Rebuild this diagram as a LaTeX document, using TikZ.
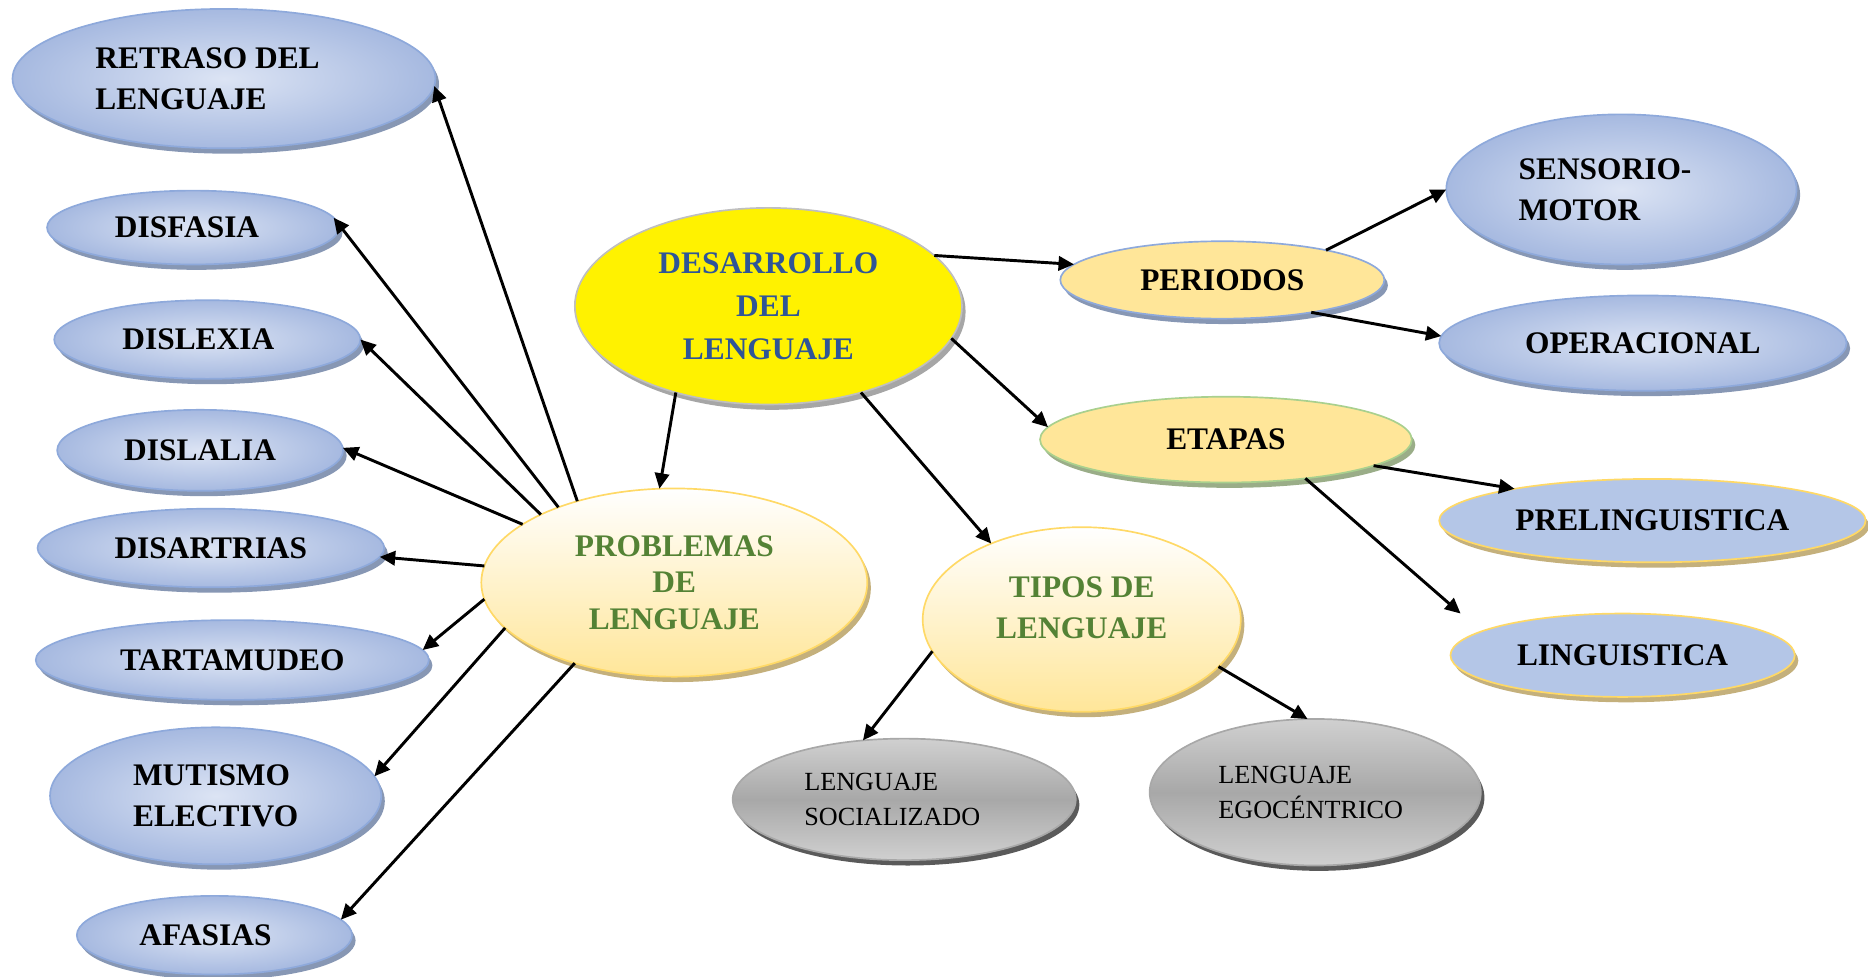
\documentclass[tikz,border=0pt]{standalone}
\usepackage{fontspec}
\setmainfont{Liberation Serif}
\usetikzlibrary{shapes.geometric, arrows.meta, shadows}

\definecolor{bluL}{HTML}{DCE4F4}
\definecolor{bluD}{HTML}{A6B9E0}
\definecolor{bluB}{HTML}{8EA9DB}
\definecolor{bluS}{HTML}{8797B4}
\definecolor{amb}{HTML}{FFE699}
\definecolor{ambB}{HTML}{FFD966}
\definecolor{ambS}{HTML}{C4B07C}
\definecolor{grisB}{HTML}{BFBFBF}
\definecolor{grisS}{HTML}{A6A6A6}
\definecolor{verB}{HTML}{A9D08E}
\definecolor{verS}{HTML}{9AAD88}
\definecolor{preF}{HTML}{B4C6E7}
\definecolor{grL}{HTML}{D0D0D0}
\definecolor{grD}{HTML}{A8A8A8}
\definecolor{grS}{HTML}{5A5A5A}
\definecolor{txtAzul}{HTML}{2F5597}
\definecolor{txtVerde}{HTML}{548235}

\begin{document}
\begin{tikzpicture}[
        burbuja/.style={ellipse, inner sep=0pt, outer sep=0pt, line width=0.8pt, align=left,
            font=\fontsize{15}{19.5}\selectfont\bfseries},
        azul/.style={burbuja, draw=bluB, inner color=bluL, outer color=bluD,
            drop shadow={shadow xshift=.06cm, shadow yshift=-.09cm, fill=bluS, opacity=1}},
        crema/.style={burbuja, draw=ambB, top color=white, bottom color=amb, text=txtVerde, align=center,
            font=\fontsize{15}{17.5}\selectfont\bfseries,
            drop shadow={shadow xshift=.06cm, shadow yshift=-.09cm, fill=ambS, opacity=1}},
        gris/.style={burbuja, draw=grD, top color=grL, bottom color=grL, middle color=grD,
            font=\fontsize{12.5}{16.5}\selectfont,
            drop shadow={shadow xshift=.06cm, shadow yshift=-.09cm, fill=grS, opacity=1}},
        flecha/.style={-{Triangle[length=2.6mm, width=2.4mm]}, line width=1.4pt}
    ]
        \useasboundingbox (0,0) rectangle (31.36,-16.4);

        % Centro
        \node[burbuja, draw=grisB, fill=yellow, text=txtAzul, align=center, minimum width=6.5cm, minimum height=3.3cm,
            font=\fontsize{15}{20.5}\selectfont\bfseries,
            drop shadow={shadow xshift=.06cm, shadow yshift=-.09cm, fill=grisS, opacity=1}]
            (desarrollo) at (12.90,-5.14) {DESARROLLO\\DEL\\LENGUAJE};

        % Problemas de lenguaje
        \node[crema, minimum width=6.48cm, minimum height=3.16cm] (problemas) at (11.32,-9.78) {PROBLEMAS\\DE\\LENGUAJE};

        \node[azul, minimum width=7.1cm, minimum height=2.34cm] (retraso) at (3.76,-1.32) {RETRASO DEL\hspace*{.55cm}\\LENGUAJE};
        \node[azul, minimum width=4.9cm, minimum height=1.24cm] (disfasia) at (3.24,-3.82) {DISFASIA\hspace*{.2cm}};
        \node[azul, minimum width=5.14cm, minimum height=1.32cm] (dislexia) at (3.48,-5.70) {DISLEXIA\hspace*{.3cm}};
        \node[azul, minimum width=4.8cm, minimum height=1.36cm] (dislalia) at (3.36,-7.56) {DISLALIA};
        \node[azul, minimum width=5.82cm, minimum height=1.32cm] (disartrias) at (3.54,-9.20) {DISARTRIAS};
        \node[azul, minimum width=6.6cm, minimum height=1.34cm] (tartamudeo) at (3.90,-11.08) {TARTAMUDEO};
        \node[azul, minimum width=5.56cm, minimum height=2.3cm] (mutismo) at (3.62,-13.36) {MUTISMO\\ELECTIVO};
        \node[azul, minimum width=4.62cm, minimum height=1.32cm] (afasias) at (3.60,-15.70) {AFASIAS\hspace*{.3cm}};

        % Periodos
        \node[burbuja, draw=bluB, fill=amb, minimum width=5.44cm, minimum height=1.3cm,
            drop shadow={shadow xshift=.06cm, shadow yshift=-.09cm, fill=bluS, opacity=1}]
            (periodos) at (20.52,-4.70) {PERIODOS};
        \node[azul, minimum width=5.88cm, minimum height=2.52cm] (sensorio) at (27.22,-3.18) {SENSORIO-\hspace*{.55cm}\\MOTOR};
        \node[azul, minimum width=6.84cm, minimum height=1.6cm] (operacional) at (27.58,-5.76) {OPERACIONAL};

        % Etapas
        \node[burbuja, draw=verB, fill=amb, minimum width=6.24cm, minimum height=1.44cm,
            drop shadow={shadow xshift=.06cm, shadow yshift=-.09cm, fill=verS, opacity=1}]
            (etapas) at (20.58,-7.38) {ETAPAS};
        \node[burbuja, draw=ambB, fill=preF, minimum width=7.16cm, minimum height=1.4cm,
            drop shadow={shadow xshift=.06cm, shadow yshift=-.09cm, fill=ambS, opacity=1}]
            (preling) at (27.74,-8.74) {PRELINGUISTICA};
        \node[burbuja, draw=ambB, fill=preF, minimum width=5.78cm, minimum height=1.4cm,
            drop shadow={shadow xshift=.06cm, shadow yshift=-.09cm, fill=ambS, opacity=1}]
            (lingu) at (27.24,-11.0) {LINGUISTICA};
        \coordinate (linguTip) at ([xshift=-2.72cm]lingu.north);

        % Tipos de lenguaje
        \node[crema, minimum width=5.34cm, minimum height=3.1cm, font=\fontsize{15}{19.5}\selectfont\bfseries,
            text depth=.4cm] (tipos) at (18.16,-10.4) {TIPOS DE\\LENGUAJE};
        \node[gris, minimum width=5.76cm, minimum height=2.04cm] (social) at (15.18,-13.42) {LENGUAJE\\SOCIALIZADO\hspace*{.4cm}};
        \node[gris, minimum width=5.56cm, minimum height=2.46cm] (ego) at (22.08,-13.30) {LENGUAJE\\EGOC\'ENTRICO\hspace*{.15cm}};

        % Conectores
        \draw[flecha] (desarrollo.223) -- (problemas.99);
        \draw[flecha] (desarrollo.17) -- (periodos.174);
        \draw[flecha] (desarrollo.-10) -- (etapas.176);
        \draw[flecha] (desarrollo.-43) -- (tipos.140);

        \draw[flecha] (problemas.140) -- (retraso.-2);
        \draw[flecha] (problemas.147) -- (disfasia.4);
        \draw[flecha] (problemas.153) -- (dislexia.east);
        \draw[flecha] (problemas.159) -- (dislalia.1);
        \draw[flecha] (problemas.175) -- (disartrias.-3);
        \draw[flecha] (problemas.185) -- (tartamudeo.3);
        \draw[flecha] (problemas.195) -- (mutismo.7);
        \draw[flecha] (problemas.219) -- (afasias.7);

        \draw[flecha] (periodos.16) -- (sensorio.west);
        \draw[flecha] (periodos.-20) -- (operacional.178);
        \draw[flecha] (etapas.-10) -- (preling.167);
        \draw[flecha] (etapas.-26) -- (linguTip);

        \draw[flecha] (tipos.192) -- (social.125);
        \draw[flecha] (tipos.-19) -- (ego.96);
    \end{tikzpicture}
\end{document}
